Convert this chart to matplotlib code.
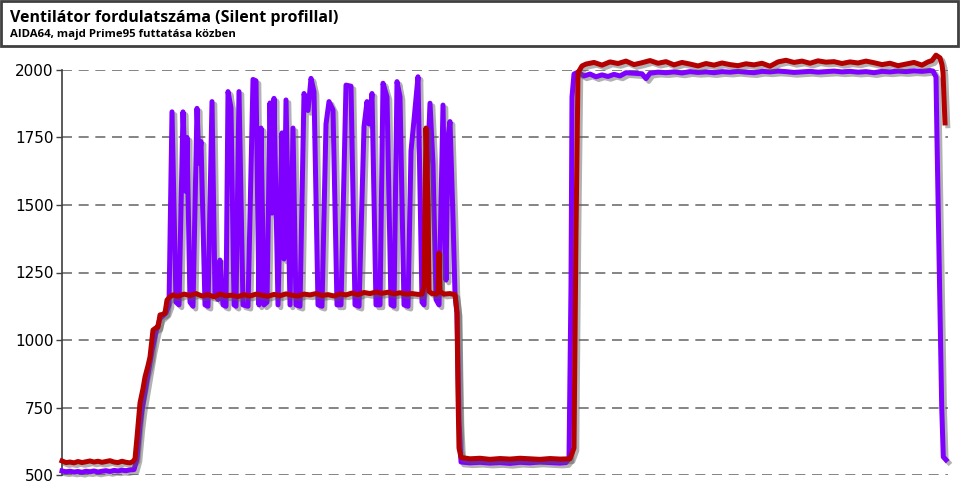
import matplotlib.pyplot as plt
import matplotlib.patheffects as pe
from matplotlib.patches import Rectangle

# adatok: ido (mintavetel) es fordulatszam (rpm)
ido_lila = [62, 66, 70, 74, 78, 82, 86, 90, 94, 98, 102, 106, 110, 114, 118, 122, 126, 130, 134,
            137, 140, 142, 147, 152, 156, 160, 166, 169,
            172, 176, 179, 183, 186, 187, 190, 193, 197, 199, 201, 205, 208, 212, 215, 218, 220, 223,
            226, 228, 231, 234, 236, 239, 243, 248, 253, 256, 259, 261, 264, 267, 270, 272, 274, 278,
            282, 284, 286, 290, 293, 296, 300, 304, 308, 311, 314, 318, 322, 326, 329, 333, 337, 341,
            346, 351, 355, 359, 364, 367, 369, 372, 376, 380, 383, 387, 391, 394, 397, 400, 404, 408,
            411, 414, 418, 422, 424, 427, 430, 433, 436, 439, 443, 446, 448, 450, 453, 455, 457, 459,
            461, 470, 480, 490, 500, 510, 520, 530, 540, 550, 560, 566, 569, 571, 572, 574,
            578, 584, 590, 596, 602, 608, 614, 620, 626, 634, 642, 646, 650, 658, 666, 674, 682, 690,
            698, 706, 714, 722, 730, 738, 746, 754, 762, 770, 778, 786, 794, 802, 810, 818, 826, 834,
            842, 850, 858, 866, 874, 882, 890, 898, 906, 914, 922, 930, 933, 936, 937, 940, 941.7,
            943.3, 946]
rpm_lila = [515, 512, 514, 511, 513, 510, 514, 512, 515, 511, 514, 516, 513, 517, 515, 518, 516, 519, 520,
            560, 680, 740, 850, 960, 1030, 1080, 1100, 1130,
            1845, 1140, 1130, 1845, 1550, 1750, 1140, 1125, 1858, 1655, 1735, 1130, 1125, 1883, 1170, 1150, 1296, 1130,
            1125, 1920, 1860, 1130, 1125, 1920, 1130, 1125, 1965, 1960, 1130, 1785, 1130, 1140, 1878, 1470, 1895, 1130,
            1767, 1300, 1889, 1130, 1785, 1130, 1125, 1913, 1850, 1969, 1920, 1130, 1125, 1800, 1883, 1852, 1130, 1130,
            1944, 1940, 1130, 1125, 1790, 1883, 1800, 1913, 1130, 1130, 1951, 1900, 1130, 1125, 1957, 1901, 1130, 1125,
            1700, 1815, 1975, 1140, 1130, 1600, 1877, 1650, 1150, 1130, 1870, 1222, 1750, 1809, 1450, 1170, 1100, 700,
            548, 545, 547, 544, 546, 543, 547, 545, 548, 546, 544, 546, 560, 1200, 1900, 1985,
            1992, 1978, 1985, 1975, 1982, 1976, 1984, 1978, 1990, 1988, 1986, 1968, 1988, 1992, 1990, 1993, 1989, 1994,
            1991, 1993, 1990, 1994, 1992, 1995, 1992, 1990, 1995, 1993, 1996, 1994, 1991, 1993, 1995, 1992, 1994, 1996,
            1993, 1995, 1992, 1994, 1990, 1995, 1993, 1996, 1994, 1997, 1995, 1998, 1996, 1974, 1741, 1122, 752,
            567, 556]

ido_piros = [62, 66, 70, 74, 78, 82, 86, 90, 94, 98, 102, 106, 110, 114, 118, 122, 126, 130, 133,
             135, 137, 140, 143, 145, 148, 150, 153, 156, 158, 160, 163, 165, 167, 170, 173,
             178, 184, 190, 196, 202, 208, 214, 220, 226, 232, 238, 244, 250, 256, 262, 268, 274, 280,
             286, 292, 298, 304, 310, 316, 322, 328, 334, 340, 346, 352, 358, 364, 370, 376, 382, 388,
             394, 400, 406, 412, 418, 422, 424, 426, 428, 429, 432, 436, 438, 439, 440, 444, 450, 455,
             457, 458, 459, 461, 470, 480, 490, 500, 510, 520, 530, 540, 550, 560, 570, 574, 576, 578,
             582, 586, 594, 602, 610, 618, 626, 634, 642, 650, 658, 666, 674, 682, 690, 698, 706, 714,
             722, 730, 738, 746, 754, 762, 770, 778, 786, 794, 802, 810, 818, 826, 834, 842, 850, 858,
             866, 874, 882, 890, 898, 906, 914, 922, 928, 932, 936, 940, 942, 943, 945]
rpm_piros = [552, 546, 548, 545, 550, 546, 549, 552, 548, 551, 547, 550, 553, 548, 546, 551, 547, 545, 550,
             560, 640, 767, 820, 863, 905, 937, 1037, 1045, 1048, 1093, 1095, 1100, 1148, 1160, 1167,
             1162, 1170, 1165, 1172, 1163, 1168, 1160, 1170, 1164, 1166, 1161, 1168, 1163, 1170, 1166, 1162, 1169, 1164,
             1171, 1166, 1163, 1170, 1167, 1172, 1165, 1168, 1163, 1171, 1167, 1174, 1168, 1176, 1172, 1178, 1173, 1177,
             1171, 1175, 1170, 1172, 1169, 1170, 1200, 1785, 1500, 1180, 1172, 1170, 1175, 1322, 1180, 1170, 1172, 1168,
             1100, 800, 600, 565, 560, 562, 558, 561, 559, 562, 560, 558, 561, 559, 560, 600, 1400, 1990,
             2015, 2022, 2028, 2018, 2030, 2024, 2033, 2020, 2027, 2035, 2025, 2031, 2019, 2028, 2022, 2015, 2024, 2018,
             2026, 2020, 2016, 2023, 2019, 2025, 2014, 2030, 2036, 2028, 2033, 2025, 2034, 2029, 2031, 2024, 2030, 2026,
             2033, 2027, 2020, 2025, 2016, 2022, 2028, 2018, 2030, 2035, 2055, 2045, 2020, 1990, 1804]

y_ticks = [500, 750, 1000, 1250, 1500, 1750, 2000]

fig = plt.figure(figsize=(9.6, 5), dpi=100)
ax = fig.add_axes([62 / 960, 25 / 500, 886 / 960, 405 / 500])

arnyek = [pe.SimpleLineShadow(offset=(2, -2), shadow_color='#555555', alpha=0.45), pe.Normal()]
ax.plot(ido_lila, rpm_lila, color='#8000ff', lw=3.6, clip_on=False, solid_joinstyle='round',
        path_effects=arnyek, zorder=3)
ax.plot(ido_piros, rpm_piros, color='#b40000', lw=3.6, clip_on=False, solid_joinstyle='round',
        path_effects=arnyek, zorder=4)

ax.set_xlim(62, 948)
ax.set_ylim(500, 2000)
ax.set_yticks(y_ticks)
ax.set_xticks([])
ax.yaxis.grid(True, color='#707070', linestyle=(0, (6, 4)), linewidth=1.2)
ax.set_axisbelow(True)
for s in ['top', 'right', 'bottom']:
    ax.spines[s].set_visible(False)
ax.spines['left'].set_color('#404040')
ax.spines['left'].set_linewidth(1.2)
ax.tick_params(axis='y', length=4, width=1, color='#404040', labelsize=11, pad=2)

# cim doboz
fig.patches.append(Rectangle((1 / 960, 1 - 46 / 500), 957 / 960, 45 / 500, transform=fig.transFigure,
                             fill=False, edgecolor='#404040', linewidth=2))
fig.text(10 / 960, 1 - 22 / 500, 'Ventilátor fordulatszáma (Silent profillal)', fontsize=11.5,
         fontweight='bold', family='Open Sans', va='baseline')
fig.text(10 / 960, 1 - 37 / 500, 'AIDA64, majd Prime95 futtatása közben', fontsize=8.2,
         fontweight='bold', family='Open Sans', va='baseline')

fig.savefig('out.png', dpi=100)
